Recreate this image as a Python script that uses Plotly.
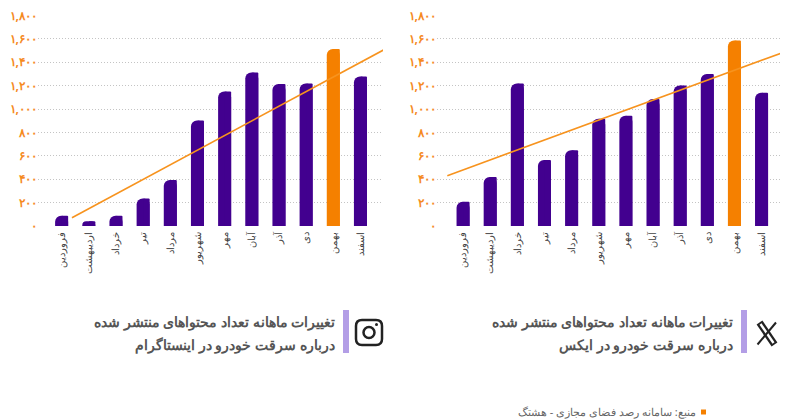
import plotly.graph_objects as go

months = ["فروردین","اردیبهشت","خرداد","تیر","مرداد","شهریور","مهر","آبان","آذر","دی","بهمن","اسفند"]
instagram_values = [88,40,88,236,393,903,1151,1313,1214,1219,1513,1279]
x_values = [208,419,1219,564,647,917,943,1085,1202,1299,1587,1140]
instagram_trend = [71,1518]
x_trend = [430,1476]
instagram_trend_pos = [0.38,11.95]
x_trend_pos = [-0.58,11.7]
y_ticks = [0,200,400,600,800,1000,1200,1400,1600,1800]
y_labels = ["۰","۲۰۰","۴۰۰","۶۰۰","۸۰۰","۱,۰۰۰","۱,۲۰۰","۱,۴۰۰","۱,۶۰۰","۱,۸۰۰"]
title_ig = ["تغییرات ماهانه تعداد محتواهای منتشر شده","درباره سرقت خودرو در اینستاگرام"]
title_x = ["تغییرات ماهانه تعداد محتواهای منتشر شده","درباره سرقت خودرو در ایکس"]
source = "منبع: سامانه رصد فضای مجازی - هشتگ"

W, H = 800, 420
PURPLE, ORANGE = "#42008f", "#f58000"
FONT = "Noto Sans, sans-serif"
idx = list(range(12))
fig = go.Figure()

def px(x): return x/W
def py(y): return 1-y/H

def panel(vals, tp, tv, xa, ya):
    colors = [ORANGE if i == 10 else PURPLE for i in idx]
    fig.add_trace(go.Bar(x=idx, y=vals, marker=dict(color=colors, cornerradius=6, line_width=0),
        width=0.48, offset=-0.24, xaxis=xa, yaxis=ya, showlegend=False))
    fig.add_trace(go.Bar(x=idx, y=vals, marker=dict(color=colors, cornerradius=1.5, line_width=0),
        width=0.24, offset=0, xaxis=xa, yaxis=ya, showlegend=False))
    fig.add_trace(go.Scatter(x=tp, y=tv, mode="lines", line=dict(color="#f7931e", width=1.6),
        cliponaxis=False, xaxis=xa, yaxis=ya, showlegend=False))

panel(instagram_values, instagram_trend_pos, instagram_trend, "x", "y")
panel(x_values, x_trend_pos, x_trend, "x2", "y2")

def xax(dom, rng):
    return dict(domain=dom, range=rng, tickmode="array", tickvals=idx, ticktext=months, tickangle=-90,
        tickfont=dict(family=FONT, size=10, color="#444"), showgrid=False, zeroline=False, ticks="", showline=False,
        automargin=False, ticklabelstandoff=3)
def yax(anchor):
    return dict(anchor=anchor, domain=[py(226), py(15.5)], range=[0,1800], tickmode="array", tickvals=y_ticks,
        ticktext=y_labels, tickfont=dict(family=FONT, size=12, color="#f58a1f", weight="bold"), automargin=False,
        showgrid=True, griddash="1px,2px", gridcolor="#c4c4c4", gridwidth=1, zeroline=False, ticks="", ticklen=0)

fig.update_layout(width=W, height=H, autosize=False, margin=dict(l=0,r=0,t=0,b=0,pad=0,autoexpand=False),
    paper_bgcolor="white", plot_bgcolor="white", barmode="overlay",
    xaxis=xax([px(38),px(383)],[-0.87,11.83]), yaxis=yax("x"),
    xaxis2=xax([px(437),px(780)],[-0.96,11.68]), yaxis2=yax("x2"))

def rect(x0,y0,x1,y1,**k):
    fig.add_shape(type="rect", xref="paper", yref="paper", x0=px(x0), x1=px(x1), y0=py(y0), y1=py(y1), **k)
def seg(x0,y0,x1,y1,color,width):
    fig.add_shape(type="line", xref="paper", yref="paper", x0=px(x0), x1=px(x1), y0=py(y0), y1=py(y1),
        line=dict(color=color,width=width))

for x0 in (343, 741):
    rect(x0,310,x0+6,353,fillcolor="#b39ee6",line_width=0)
for lines, xr in ((title_ig,337),(title_x,735)):
    for ln, yc in zip(lines,(321,344)):
        fig.add_annotation(text=ln, xref="paper", yref="paper", x=px(xr), y=py(yc), xanchor="right", yanchor="middle",
            align="right", showarrow=False, font=dict(family=FONT, size=14, color="#555", weight="bold"))
# Instagram icon
P = lambda x,y: f"{px(x)},{py(y)}"
fig.add_shape(type="path", xref="paper", yref="paper", line=dict(color="#222",width=2.5),
    path=f"M {P(362,320)} L {P(376,320)} Q {P(382,320)} {P(382,326)} L {P(382,339)} Q {P(382,345)} {P(376,345)} L {P(362,345)} Q {P(356,345)} {P(356,339)} L {P(356,326)} Q {P(356,320)} {P(362,320)} Z")
fig.add_shape(type="circle", xref="paper", yref="paper", x0=px(363.5), x1=px(374.5), y0=py(338), y1=py(327), line=dict(color="#222",width=2.5))
fig.add_shape(type="circle", xref="paper", yref="paper", x0=px(375), x1=px(378), y0=py(326), y1=py(323), fillcolor="#222", line_width=0)
# X icon
seg(759.5,322.5,774.5,344.5,"#222",7)
seg(760.5,324,773.5,343,"white",2.4)
seg(757.5,344.5,776,322.5,"#222",2)
# source
rect(701,409.5,706,414.5,fillcolor=ORANGE,line_width=0)
fig.add_annotation(text=source, xref="paper", yref="paper", x=px(698), y=py(411), xanchor="right", yanchor="middle",
    showarrow=False, font=dict(family=FONT, size=11, color="#666"))

fig.write_html("out.html", config={"displayModeBar": False}, post_script="document.body.style.margin='0';")
